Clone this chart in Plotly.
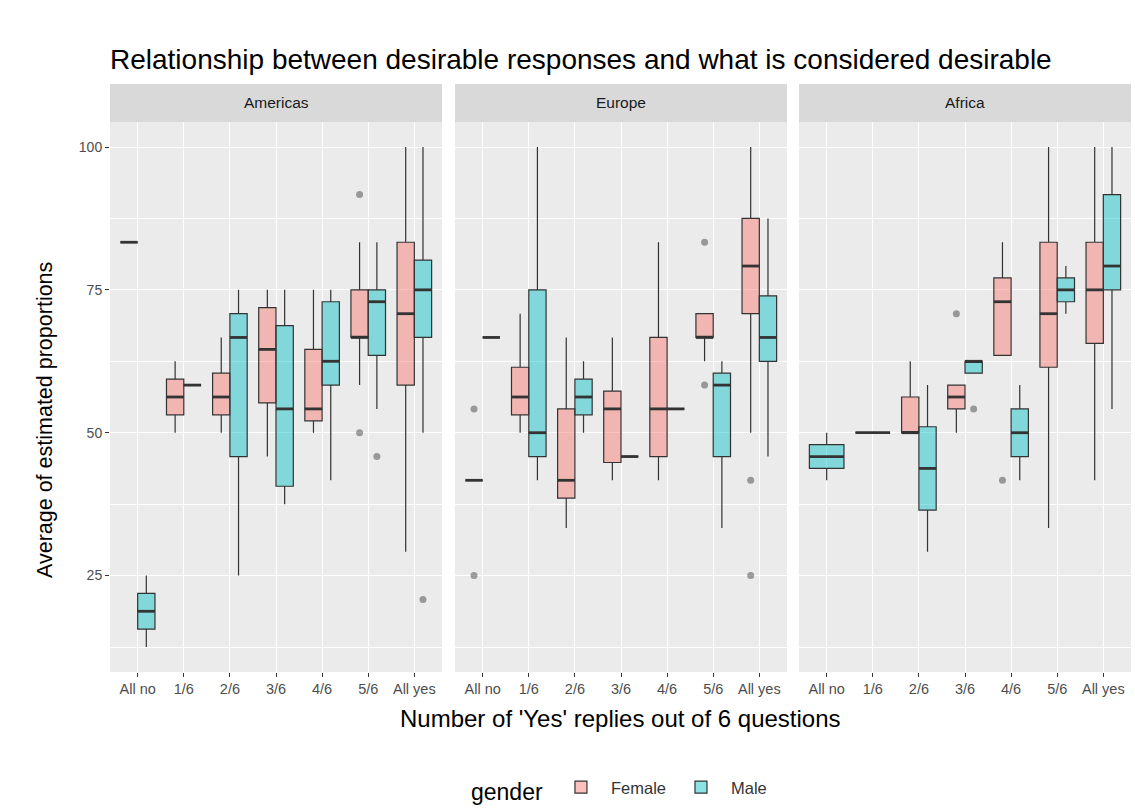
import plotly.graph_objects as go
from plotly.subplots import make_subplots

# ---- data -----------------------------------------------------------------
categories = ["All no", "1/6", "2/6", "3/6", "4/6", "5/6", "All yes"]
regions = ["Americas", "Europe", "Africa"]
genders = ["Female", "Male"]

# box statistics per category: lower whisker, q1, median, q3, upper whisker
americas_female_lo = [83.33, 50.00, 50.00, 45.83, 50.00, 58.33, 29.17]
americas_female_q1 = [83.33, 53.13, 53.13, 55.21, 52.08, 66.67, 58.33]
americas_female_med = [83.33, 56.25, 56.25, 64.58, 54.17, 66.67, 70.83]
americas_female_q3 = [83.33, 59.38, 60.42, 71.88, 64.58, 75.00, 83.33]
americas_female_hi = [83.33, 62.50, 66.67, 75.00, 75.00, 83.33, 100.0]
americas_female_out = [[], [], [], [], [], [91.67, 50.00], []]

americas_male_lo = [12.50, 58.33, 25.00, 37.50, 41.67, 54.17, 50.00]
americas_male_q1 = [15.63, 58.33, 45.83, 40.63, 58.33, 63.54, 66.67]
americas_male_med = [18.75, 58.33, 66.67, 54.17, 62.50, 72.92, 75.00]
americas_male_q3 = [21.88, 58.33, 70.83, 68.75, 72.92, 75.00, 80.21]
americas_male_hi = [25.00, 58.33, 75.00, 75.00, 75.00, 83.33, 100.0]
americas_male_out = [[], [], [], [], [], [45.83], [20.83]]

europe_female_lo = [41.67, 50.00, 33.33, 41.67, 41.67, 62.50, 50.00]
europe_female_q1 = [41.67, 53.13, 38.54, 44.79, 45.83, 66.67, 70.83]
europe_female_med = [41.67, 56.25, 41.67, 54.17, 54.17, 66.67, 79.17]
europe_female_q3 = [41.67, 61.46, 54.17, 57.29, 66.67, 70.83, 87.50]
europe_female_hi = [41.67, 70.83, 66.67, 66.67, 83.33, 70.83, 100.0]
europe_female_out = [[54.17, 25.00], [], [], [], [], [83.33, 58.33], [41.67, 25.00]]

europe_male_lo = [66.67, 41.67, 50.00, 45.83, 54.17, 33.33, 45.83]
europe_male_q1 = [66.67, 45.83, 53.13, 45.83, 54.17, 45.83, 62.50]
europe_male_med = [66.67, 50.00, 56.25, 45.83, 54.17, 58.33, 66.67]
europe_male_q3 = [66.67, 75.00, 59.38, 45.83, 54.17, 60.42, 73.96]
europe_male_hi = [66.67, 100.0, 62.50, 45.83, 54.17, 62.50, 87.50]
europe_male_out = [[], [], [], [], [], [], []]

africa_female_lo = [None, 50.00, 50.00, 50.00, 63.54, 33.33, 41.67]
africa_female_q1 = [None, 50.00, 50.00, 54.17, 63.54, 61.46, 65.63]
africa_female_med = [None, 50.00, 50.00, 56.25, 72.92, 70.83, 75.00]
africa_female_q3 = [None, 50.00, 56.25, 58.33, 77.08, 83.33, 83.33]
africa_female_hi = [None, 50.00, 62.50, 58.33, 83.33, 100.0, 100.0]
africa_female_out = [[], [], [], [70.83], [41.67], [], []]

africa_male_lo = [41.67, None, 29.17, 60.42, 41.67, 70.83, 54.17]
africa_male_q1 = [43.75, None, 36.46, 60.42, 45.83, 72.92, 75.00]
africa_male_med = [45.83, None, 43.75, 62.50, 50.00, 75.00, 79.17]
africa_male_q3 = [47.92, None, 51.04, 62.50, 54.17, 77.08, 91.67]
africa_male_hi = [50.00, None, 58.33, 62.50, 58.33, 79.17, 100.0]
africa_male_out = [[], [], [], [54.17], [], [], []]

stats = {
    ("Americas", "Female"): (americas_female_lo, americas_female_q1, americas_female_med,
                             americas_female_q3, americas_female_hi, americas_female_out),
    ("Americas", "Male"): (americas_male_lo, americas_male_q1, americas_male_med,
                           americas_male_q3, americas_male_hi, americas_male_out),
    ("Europe", "Female"): (europe_female_lo, europe_female_q1, europe_female_med,
                           europe_female_q3, europe_female_hi, europe_female_out),
    ("Europe", "Male"): (europe_male_lo, europe_male_q1, europe_male_med,
                         europe_male_q3, europe_male_hi, europe_male_out),
    ("Africa", "Female"): (africa_female_lo, africa_female_q1, africa_female_med,
                           africa_female_q3, africa_female_hi, africa_female_out),
    ("Africa", "Male"): (africa_male_lo, africa_male_q1, africa_male_med,
                         africa_male_q3, africa_male_hi, africa_male_out),
}

# ---- styling ----------------------------------------------------------------
fills = {"Female": "rgba(248,118,109,0.45)", "Male": "rgba(0,191,196,0.45)"}
edge = "#333333"
FONT = "Liberation Sans, Arial, sans-serif"
GROUP_W = 0.75          # total width of a category's boxes
HALF = GROUP_W / 2

fig = make_subplots(rows=1, cols=3, shared_yaxes=True)

legend_done = set()
for ci, region in enumerate(regions, start=1):
    for g in genders:
        other = genders[1 - genders.index(g)]
        lo, q1, med, q3, hi, out = stats[(region, g)]
        olo = stats[(region, other)][0]
        sign = -1 if g == "Female" else 1
        groups = {"dodged": dict(x=[], lo=[], q1=[], med=[], q3=[], hi=[], w=HALF),
                  "single": dict(x=[], lo=[], q1=[], med=[], q3=[], hi=[], w=GROUP_W)}
        ox, oy = [], []
        mx, my = [], []
        for i in range(len(categories)):
            if med[i] is None:
                continue
            if olo[i] is None:
                key, pos = "single", i
            else:
                key, pos = "dodged", i + sign * HALF / 2
            grp = groups[key]
            grp["x"].append(pos)
            grp["lo"].append(lo[i])
            grp["q1"].append(q1[i])
            grp["med"].append(med[i])
            grp["q3"].append(q3[i])
            grp["hi"].append(hi[i])
            w = grp["w"]
            mx += [pos - w / 2, pos + w / 2, None]
            my += [med[i], med[i], None]
            for v in out[i]:
                ox.append(pos)
                oy.append(v)
        for key, grp in groups.items():
            if not grp["x"]:
                continue
            show = g not in legend_done
            legend_done.add(g)
            fig.add_trace(go.Box(
                x=grp["x"], q1=grp["q1"], median=grp["med"], q3=grp["q3"],
                lowerfence=grp["lo"], upperfence=grp["hi"],
                width=grp["w"], whiskerwidth=0, boxpoints=False,
                fillcolor=fills[g], line=dict(color=edge, width=1.2),
                name=g, legendgroup=g, showlegend=show, hoverinfo="skip",
            ), row=1, col=ci)
        # heavier median bars
        fig.add_trace(go.Scatter(
            x=mx, y=my, mode="lines", line=dict(color=edge, width=2.8),
            showlegend=False, hoverinfo="skip", legendgroup=g,
        ), row=1, col=ci)
        if ox:
            fig.add_trace(go.Scatter(
                x=ox, y=oy, mode="markers",
                marker=dict(color="rgba(51,51,51,0.45)", size=7),
                showlegend=False, hoverinfo="skip", legendgroup=g,
            ), row=1, col=ci)

# ---- layout -----------------------------------------------------------------
W, H = 1135, 811
ML, MR, MT, MB = 110, 4, 84, 139
plot_w = W - ML - MR
plot_h = H - MT - MB
panel_px = [(110, 442), (455, 787), (799, 1131)]
strip_h = 38
panel_top = (plot_h - strip_h) / plot_h

for ci, (a, b) in enumerate(panel_px, start=1):
    xa = "xaxis" if ci == 1 else f"xaxis{ci}"
    fig.layout[xa].update(
        domain=[(a - ML) / plot_w, (b - ML) / plot_w],
        range=[-0.6, len(categories) - 0.4],
        tickvals=list(range(len(categories))), ticktext=categories,
        showgrid=True, gridcolor="white", gridwidth=1.1, zeroline=False,
        ticks="outside", ticklen=4, tickcolor=edge, tickwidth=1,
        tickfont=dict(family=FONT, size=14.5, color="#4D4D4D"),
        showline=False,
    )
    ya = "yaxis" if ci == 1 else f"yaxis{ci}"
    fig.layout[ya].update(
        domain=[0, panel_top], range=[8.125, 104.375],
        tickvals=[25, 50, 75, 100], showgrid=True, gridcolor="white",
        gridwidth=1.1, zeroline=False,
        minor=dict(tickvals=[12.5, 37.5, 62.5, 87.5], showgrid=True,
                   gridcolor="white", gridwidth=0.5, ticks=""),
        ticks="outside" if ci == 1 else "", ticklen=4, tickcolor=edge,
        tickfont=dict(family=FONT, size=14, color="#4D4D4D"),
        showticklabels=(ci == 1),
    )
    ref = "x domain" if ci == 1 else f"x{ci} domain"
    fig.add_shape(type="rect", xref=ref, yref="paper", x0=0, x1=1,
                  y0=panel_top, y1=1, fillcolor="#D9D9D9", line_width=0,
                  layer="below")
    fig.add_annotation(xref=ref, yref="paper", x=0.5, y=(panel_top + 1) / 2,
                       text=regions[ci - 1], showarrow=False,
                       xanchor="center", yanchor="middle",
                       font=dict(family=FONT, size=15.5, color="#1A1A1A"))

fig.add_annotation(xref="paper", yref="paper", x=0.5, y=-46 / plot_h,
                   text="Number of 'Yes' replies out of 6 questions",
                   showarrow=False, yanchor="middle",
                   font=dict(family=FONT, size=24, color="black"))
fig.add_annotation(xref="paper", yref="paper", x=-65 / plot_w,
                   y=(672 - 420) / plot_h,
                   text="Average of estimated proportions", textangle=-90,
                   showarrow=False, xanchor="center", yanchor="middle",
                   font=dict(family=FONT, size=21.5, color="black"))

fig.update_layout(
    width=W, height=H,
    margin=dict(l=ML, r=MR, t=MT, b=MB),
    paper_bgcolor="white", plot_bgcolor="#EBEBEB",
    boxmode="overlay",
    title=dict(text="Relationship between desirable responses and what is considered desirable",
               x=ML / W, xanchor="left", xref="container",
               y=1 - 59 / H, yanchor="middle", yref="container",
               font=dict(family=FONT, size=28, color="black")),
    legend=dict(orientation="h", x=0.5, xanchor="center",
                yref="container", y=1 - 790 / H, yanchor="middle",
                title=dict(text="gender", side="left",
                           font=dict(family=FONT, size=23, color="black")),
                font=dict(family=FONT, size=16.5, color="#333333"),
                itemwidth=50, traceorder="normal"),
    font=dict(family=FONT),
)

fig.write_html("out.html")
